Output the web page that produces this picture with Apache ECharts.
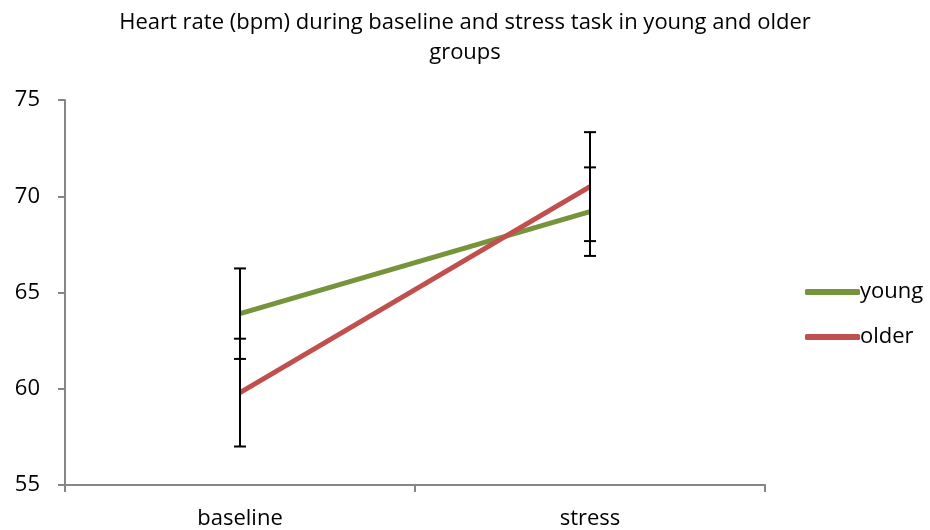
<!DOCTYPE html>
<html><head><meta charset="utf-8">
<script src="https://cdn.jsdelivr.net/npm/echarts@6/dist/echarts.min.js"></script>
<style>html,body{margin:0;padding:0;background:#fff}#c{width:930px;height:530px}</style>
</head><body><div id="c"></div>
<script>
const categories = ['baseline', 'stress'];
const youngMean = [63.9, 69.2];
const youngErr = [2.35, 2.3];
const olderMean = [59.8, 70.5];
const olderErr = [2.8, 2.83];
const yTicks = [55, 60, 65, 70, 75];

const errData = [];
categories.forEach((c, i) => {
  errData.push([i, youngMean[i] - youngErr[i], youngMean[i] + youngErr[i]]);
  errData.push([i, olderMean[i] - olderErr[i], olderMean[i] + olderErr[i]]);
});

const font = '"Open Sans", "Liberation Sans", sans-serif';
const chart = echarts.init(document.getElementById('c'), null, {renderer: 'canvas'});
chart.setOption({
  animation: false,
  title: {
    text: 'Heart rate (bpm) during baseline and stress task in young and older\ngroups',
    left: 'center', top: 3,
    textStyle: {fontFamily: font, fontSize: 22, fontWeight: 'normal', color: '#000', lineHeight: 30}
  },
  legend: {
    data: ['young', 'older'],
    orient: 'vertical', left: 800, top: 276,
    itemWidth: 55, itemHeight: 6, itemGap: 23, icon: 'roundRect',
    textStyle: {fontFamily: font, fontSize: 22, color: '#000', padding: [0, 0, 0, -5]}
  },
  grid: {left: 65, right: 165, top: 100, bottom: 45, containLabel: false},
  xAxis: {
    type: 'category', data: categories, boundaryGap: true,
    axisLine: {lineStyle: {color: '#868686', width: 2}},
    axisTick: {show: true, alignWithLabel: false, length: 7, lineStyle: {color: '#868686', width: 2}},
    axisLabel: {fontFamily: font, fontSize: 22, color: '#000', margin: 23}
  },
  yAxis: {
    type: 'value', min: yTicks[0], max: yTicks[yTicks.length - 1], interval: 5,
    axisLine: {show: true, lineStyle: {color: '#868686', width: 2}},
    axisTick: {show: true, length: 7, lineStyle: {color: '#868686', width: 2}},
    splitLine: {show: false},
    axisLabel: {fontFamily: font, fontSize: 22, color: '#000', margin: 25}
  },
  series: [
    {name: 'young', type: 'line', data: youngMean, symbol: 'none',
     lineStyle: {color: '#77933C', width: 5}, itemStyle: {color: '#77933C'}, z: 2},
    {name: 'older', type: 'line', data: olderMean, symbol: 'none',
     lineStyle: {color: '#C0504D', width: 5}, itemStyle: {color: '#C0504D'}, z: 2},
    {name: 'err', type: 'custom', data: errData, z: 3,
     renderItem: function (params, api) {
       const x = api.value(0);
       const lo = api.coord([x, api.value(1)]);
       const hi = api.coord([x, api.value(2)]);
       const w = 6;
       const st = {stroke: '#000', lineWidth: 2};
       return {type: 'group', children: [
         {type: 'line', shape: {x1: lo[0], y1: lo[1], x2: hi[0], y2: hi[1]}, style: st},
         {type: 'line', shape: {x1: lo[0] - w, y1: lo[1], x2: lo[0] + w, y2: lo[1]}, style: st},
         {type: 'line', shape: {x1: hi[0] - w, y1: hi[1], x2: hi[0] + w, y2: hi[1]}, style: st}
       ]};
     }}
  ]
});
</script></body></html>
